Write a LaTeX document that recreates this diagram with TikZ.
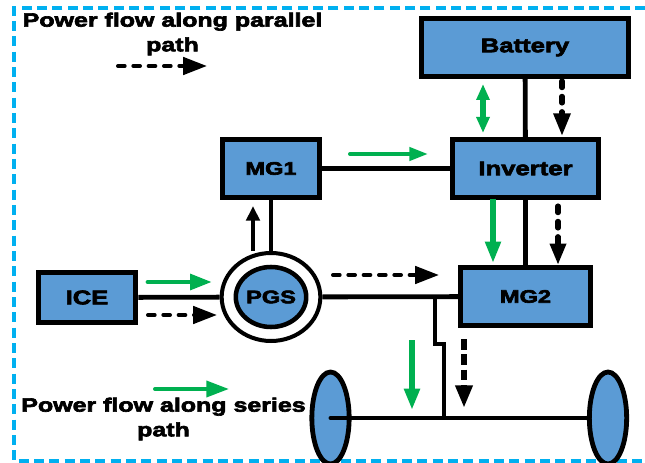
\documentclass[tikz,border=0pt]{standalone}
\usepackage{fontspec}
\setmainfont[BoldFeatures={FakeBold=3.4,FakeStretch=1.3}]{Liberation Sans}
\usetikzlibrary{arrows.meta,shapes.geometric}
\definecolor{boxblue}{HTML}{5B9BD5}
\definecolor{framecyan}{HTML}{00B0F0}
\definecolor{flowgreen}{HTML}{00B050}
\tikzset{
    unit/.style={draw=black,line width=3.9pt,fill=boxblue,font=\fontsize{14.8}{16}\selectfont\bfseries},
    smallunit/.style={unit,font=\fontsize{13.6}{16}\selectfont\bfseries},
    link/.style={line width=3.6pt},
    caption/.style={align=center,font=\fontsize{14.4}{18.5}\selectfont\bfseries,inner sep=0pt},
    greenflow/.style 2 args={flowgreen,line width=#1,-{Triangle[length=#2,width=0.7*#2]}},
    blackflow/.style 2 args={black,line width=#1,dash pattern=on 5pt off 6.5pt,line cap=round,-{Triangle[length=#2,width=0.72*#2]}},
}
\begin{document}
\begin{tikzpicture}[x=0.75pt,y=-0.75pt]
    \clip (0,0) rectangle (645,463);
    \draw[framecyan,line width=3.7pt,dash pattern=on 7.5pt off 4pt] (645,8) -- (14,8) -- (14,461) -- (645,461);

    \node[unit,minimum width=155pt,minimum height=43.5pt] (battery) at (525,47.5) {Battery};
    \node[unit,minimum width=109.5pt,minimum height=43.5pt] (inverter) at (525.5,168.5) {Inverter};
    \node[smallunit,minimum width=73pt,minimum height=43.5pt] (mg1) at (271,168.5) {MG1};
    \node[unit,minimum width=73pt,minimum height=37.5pt] (ice) at (87,297.5) {ICE};
    \node[smallunit,minimum width=97.5pt,minimum height=43.5pt] (mg2) at (525.5,296.5) {MG2};
    \node[draw,line width=3pt,fill=white,ellipse,minimum width=74pt,minimum height=66pt,inner sep=0pt] (pgsring) at (271,297) {};
    \node[smallunit,line width=3.4pt,ellipse,minimum width=50pt,minimum height=45pt,inner sep=0pt] (pgs) at (271,297) {PGS};
    \node[unit,line width=3.6pt,ellipse,minimum width=28pt,minimum height=69pt,inner sep=0pt] (wheell) at (330.5,418) {};
    \node[unit,line width=3.6pt,ellipse,minimum width=28pt,minimum height=69pt,inner sep=0pt] (wheelr) at (608,418) {};

    \draw[link] (battery) -- (inverter);
    \draw[link] (inverter) -- (mg2);
    \draw[link] (mg1) -- (inverter);
    \draw[link] (mg1) -- (pgsring);
    \draw[link] (ice) -- (pgsring);
    \draw[link] (pgsring) -- (mg2);

    \coordinate (jointtop) at (435,297);
    \coordinate (jogtop) at (435,344);
    \coordinate (jogend) at (444,344);
    \coordinate (jointaxle) at (444,418);
    \draw[line width=3pt,line cap=round] (wheell.center) -- (wheelr);
    \draw[line width=3.3pt,line join=miter] (jointtop) -- (jogtop) -- (jogend) -- (jointaxle);

    % green arrows
    \coordinate (ga1) at (148,282);  \coordinate (gb1) at (212,282);
    \coordinate (ga2) at (155,389);  \coordinate (gb2) at (229,389);
    \coordinate (ga3) at (350,154);  \coordinate (gb3) at (428,154);
    \coordinate (ga4) at (483,84);   \coordinate (gb4) at (483,133);
    \coordinate (ga5) at (493,199);  \coordinate (gb5) at (493,263);
    \coordinate (ga6) at (412,340);  \coordinate (gb6) at (412,410);
    \draw[greenflow={3.6pt}{16.5pt},line cap=round] (ga1) -- (gb1);
    \draw[greenflow={3pt}{17pt},line cap=round] (ga2) -- (gb2);
    \draw[greenflow={3pt}{14pt},line cap=round] (ga3) -- (gb3);
    \draw[flowgreen,line width=3.8pt,{Triangle[length=12pt,width=9.5pt]}-{Triangle[length=12pt,width=9.5pt]}] (ga4) -- (gb4);
    \draw[greenflow={3.8pt}{16pt}] (ga5) -- (gb5);
    \draw[greenflow={4.8pt}{16pt}] (ga6) -- (gb6);

    % black arrows
    \coordinate (ka1) at (148,315);  \coordinate (kb1) at (217,315);
    \coordinate (ka2) at (118,66);   \coordinate (kb2) at (207,66);
    \coordinate (ka3) at (333,275);  \coordinate (kb3) at (439,275);
    \coordinate (ka4) at (562,81);   \coordinate (kb4) at (562,136);
    \coordinate (ka5) at (558,206);  \coordinate (kb5) at (558,265);
    \coordinate (ka6) at (464,339);  \coordinate (kb6) at (464,408);
    \coordinate (ka7) at (253,251);  \coordinate (kb7) at (253,206);
    \draw[blackflow={3pt}{18pt}] (ka1) -- (kb1);
    \draw[blackflow={3pt}{18pt}] (ka2) -- (kb2);
    \draw[blackflow={3pt}{18pt}] (ka3) -- (kb3);
    \draw[blackflow={3.8pt}{17pt}] (ka4) -- (kb4);
    \draw[blackflow={3.8pt}{16pt}] (ka5) -- (kb5);
    \draw[blackflow={4.2pt}{17pt},line cap=butt,dash pattern=on 8pt off 3.5pt] (ka6) -- (kb6);
    \draw[black,line width=3pt,-{Triangle[length=11pt,width=10pt]}] (ka7) -- (kb7);

    \node[caption] (parallel) at (172.5,34) {Power flow along parallel\\path};
    \node[caption] (series) at (163.5,419) {Power flow along series\\path};
\end{tikzpicture}
\end{document}
